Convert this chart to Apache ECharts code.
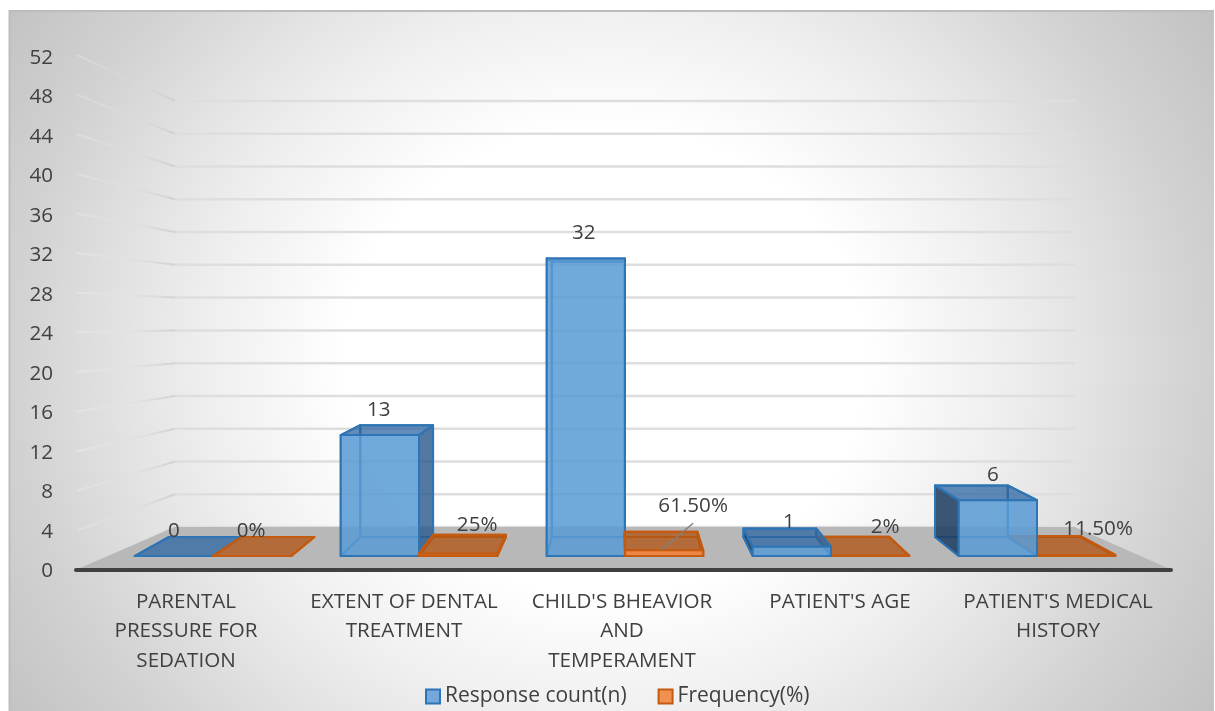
<!DOCTYPE html>
<html>
<head>
<meta charset="utf-8">
<style>html,body{margin:0;padding:0;background:#fff}#chart{width:1215px;height:711px}</style>
<script src="https://cdn.jsdelivr.net/npm/echarts@6/dist/echarts.min.js"></script>
</head>
<body>
<div id="chart"></div>
<script>
// Survey results: factors weighed when deciding on sedation.
const categories = [
  'PARENTAL\nPRESSURE FOR\nSEDATION',
  'EXTENT OF DENTAL\nTREATMENT',
  "CHILD'S BHEAVIOR\nAND\nTEMPERAMENT",
  "PATIENT'S AGE",
  "PATIENT'S MEDICAL\nHISTORY"
];
const responseCount = [0, 13, 32, 1, 6];
const frequency = [0, 0.25, 0.615, 0.02, 0.115];
const frequencyLabels = ['0%', '25%', '61.50%', '2%', '11.50%'];
const valueTicks = [0, 4, 8, 12, 16, 20, 24, 28, 32, 36, 40, 44, 48, 52];

// Label placement relative to the front top edge of each column.
const responseNudge = [[0, 0], [-1, 0], [-2, 0], [-3, 0], [-5, 0]];
const frequencyNudge = [[-1, 0], [19, -4], [29, -19], [15, -4], [22, -1]];
const leaderLineFor = 2;

const FONT = '"Open Sans", sans-serif';
const INK = '#404040';
const TEXT_SIZE = 20.6;

// The pseudo-3D view is parallel planes, each with its own cartesian:
// 0 = axis plane, 1 = column fronts, 2 = column backs, 3 = back wall, 4 = tick labels.
const AXIS = 0, FRONT = 1, BACK = 2, WALL = 3, TICKS = 4;
const planes = [
  { left: 77, right: 48, top: 55, bottom: 141 },
  { left: 110, right: 75, top: 72.4, bottom: 155 },
  { left: 145.7, right: 111.4, top: 89.8, bottom: 174 },
  { left: 175, right: 140, top: 101, bottom: 184 },
  { left: 77, right: 48, top: 58, bottom: 139.5 }
];

const chart = echarts.init(document.getElementById('chart'), null, { renderer: 'canvas' });

function at(plane, cat, offset, value) {
  const a = chart.convertToPixel({ gridIndex: plane }, [cat, value]);
  const b = chart.convertToPixel({ gridIndex: plane }, [cat + 1, value]);
  return [a[0] + offset * (b[0] - a[0]), a[1]];
}
const poly = (points, fill, stroke, lineWidth, z2) => ({
  type: 'polygon', shape: { points }, z2,
  style: { fill, stroke, lineWidth, lineJoin: 'round' }
});

function renderFloor(params, api) {
  const fl = at(AXIS, 0, -0.5, 0), fr = at(AXIS, 4, 0.5, 0);
  const bl = at(WALL, 0, -0.5, 0), br = at(WALL, 4, 0.5, 0);
  return {
    type: 'group',
    children: [
      poly([[fl[0] - 2, fl[1]], [fr[0] + 5, fr[1]], br, bl], '#b8b8b8', null, 0, 2),
      {
        type: 'line', z2: 60,
        shape: { x1: fl[0] - 1, y1: fl[1], x2: fr[0] + 4, y2: fr[1] },
        style: { stroke: '#404040', lineWidth: 4, lineCap: 'round' }
      }
    ]
  };
}

function renderGridLine(params, api) {
  const v = api.value(0);
  const s = at(AXIS, 0, -0.5, v), c = at(WALL, 0, -0.5, v), e = at(WALL, 4, 0.5, v);
  return {
    type: 'group',
    children: [
      {
        type: 'line', z2: 1,
        shape: { x1: s[0], y1: s[1], x2: c[0], y2: c[1] },
        style: {
          lineWidth: 2,
          stroke: new echarts.graphic.LinearGradient(s[0], s[1], c[0], c[1], [
            { offset: 0, color: 'rgba(255,255,255,0.22)' },
            { offset: 0.45, color: 'rgba(225,225,225,0.2)' },
            { offset: 1, color: 'rgba(205,205,205,0.85)' }
          ], true)
        }
      },
      {
        type: 'line', z2: 1,
        shape: { x1: c[0], y1: c[1], x2: e[0], y2: e[1] },
        style: { stroke: '#dedede', lineWidth: 2.5 }
      }
    ]
  };
}

// Draws one column as a translucent box; l and r place it inside its category band.
function boxRenderer(cfg) {
  return function (params, api) {
    const cat = api.value(0), v = api.value(1);
    const fl0 = at(FRONT, cat, cfg.l, 0), fr0 = at(FRONT, cat, cfg.r, 0);
    const fl1 = at(FRONT, cat, cfg.l, v), fr1 = at(FRONT, cat, cfg.r, v);
    const bl0 = at(BACK, cat, cfg.l, 0), br0 = at(BACK, cat, cfg.r, 0);
    const bl1 = at(BACK, cat, cfg.l, v), br1 = at(BACK, cat, cfg.r, v);
    const base = cfg.rank(cat);
    const nudge = cfg.nudge[cat];
    const lx = (fl0[0] + fr0[0]) / 2 + nudge[0], ly = fl1[1] - 25 + nudge[1];
    const W = 2;
    // A side face only reads as solid when it sticks out beyond the front face.
    const leftFill = bl0[0] < fl0[0] ? cfg.sideL : cfg.back;
    const rightFill = br0[0] > fr0[0] ? cfg.sideR : cfg.back;
    const children = [
      poly([bl0, br0, br1, bl1], cfg.back, cfg.edge, W, base),
      poly([fl0, fr0, br0, bl0], cfg.back, cfg.edge, W, base + 1),
      poly([fl0, bl0, bl1, fl1], leftFill, cfg.edge, W, base + 2),
      poly([fr0, br0, br1, fr1], rightFill, cfg.edge, W, base + 2),
      poly([fl1, fr1, br1, bl1], cfg.top, cfg.edge, W, base + 3),
      poly([fl0, fr0, fr1, fl1], cfg.front, cfg.edge, W, base + 4),
      {
        type: 'text', z2: 90,
        style: {
          x: lx, y: ly, text: cfg.text(cat), fill: INK, font: TEXT_SIZE + 'px ' + FONT,
          align: 'center', verticalAlign: 'middle'
        }
      }
    ];
    if (cfg.leader === cat) {
      children.push({
        type: 'line', z2: 80,
        shape: { x1: lx, y1: ly + 17, x2: (fl0[0] + fr0[0]) / 2 - 2, y2: fl1[1] - 1 },
        style: { stroke: '#808080', lineWidth: 1.5 }
      });
    }
    return { type: 'group', children };
  };
}

const blueStyle = {
  front: 'rgba(91,155,213,0.85)', back: 'rgba(91,155,213,0.12)',
  sideL: 'rgba(30,60,95,0.85)', sideR: 'rgba(44,90,140,0.8)',
  top: 'rgba(44,100,160,0.72)', edge: '#2e75b6'
};
const orangeStyle = {
  front: 'rgba(240,130,60,0.9)', back: 'rgba(237,125,49,0.12)',
  sideL: 'rgba(175,85,20,0.75)', sideR: 'rgba(175,85,20,0.75)',
  top: 'rgba(175,85,20,0.75)', edge: '#c55a11'
};

const axisBase = { min: 0, max: 52, interval: 4 };
const hiddenX = i => ({ type: 'category', gridIndex: i, data: categories, show: false });
const hiddenY = i => Object.assign({ type: 'value', gridIndex: i, show: false }, axisBase);

chart.setOption({
  animation: false,
  graphic: [
    {
      // Panel backdrop: an elliptical glow, squeezed vertically about the panel centre.
      type: 'rect', z: -10, silent: true, x: 9, y: 361, scaleY: 1 / 1.11,
      shape: { x: 0, y: -388, width: 1205, height: 782 },
      style: {
        fill: new echarts.graphic.RadialGradient(596, 0, 720, [
          { offset: 0, color: '#ffffff' },
          { offset: 0.36, color: '#ffffff' },
          { offset: 0.5, color: '#f3f3f3' },
          { offset: 0.54, color: '#f0f0f0' },
          { offset: 0.66, color: '#e4e4e4' },
          { offset: 0.82, color: '#d2d2d2' },
          { offset: 1, color: '#c2c2c2' }
        ], true)
      }
    },
    {
      type: 'polyline', z: -9, silent: true,
      shape: { points: [[9.5, 711], [9.5, 11], [1214, 11]] },
      style: { stroke: '#bdbdbd', lineWidth: 2, fill: null }
    }
  ],
  legend: {
    left: 420, top: 681, itemWidth: 14, itemHeight: 14, itemGap: 31, icon: 'rect',
    textStyle: { color: INK, fontFamily: FONT, fontSize: 21 },
    data: [
      { name: 'Response count(n)', itemStyle: { color: '#74a8dc', borderColor: '#2e75b6', borderWidth: 2 } },
      { name: 'Frequency(%)', itemStyle: { color: '#f0914f', borderColor: '#c55a11', borderWidth: 2 } }
    ]
  },
  grid: planes,
  xAxis: [
    {
      type: 'category', gridIndex: AXIS, data: categories,
      axisLine: { show: false }, axisTick: { show: false },
      axisLabel: {
        color: INK, fontFamily: FONT, fontSize: TEXT_SIZE, lineHeight: 29.5,
        margin: 17, interval: 0
      }
    },
    hiddenX(FRONT), hiddenX(BACK), hiddenX(WALL), hiddenX(TICKS)
  ],
  yAxis: [
    hiddenY(AXIS), hiddenY(FRONT), hiddenY(BACK), hiddenY(WALL),
    Object.assign({
      type: 'value', gridIndex: TICKS,
      axisLine: { show: false }, axisTick: { show: false }, splitLine: { show: false },
      axisLabel: { color: INK, fontFamily: FONT, fontSize: TEXT_SIZE, margin: 24 }
    }, axisBase)
  ],
  series: [
    {
      type: 'custom', silent: true, xAxisIndex: WALL, yAxisIndex: WALL, clip: false,
      data: [[0, 0]], renderItem: renderFloor
    },
    {
      type: 'custom', silent: true, xAxisIndex: WALL, yAxisIndex: WALL, clip: false,
      encode: { y: 0 }, data: valueTicks.map(v => [v]), renderItem: renderGridLine
    },
    {
      type: 'custom', name: 'Response count(n)', silent: true,
      xAxisIndex: FRONT, yAxisIndex: FRONT, clip: false,
      data: responseCount.map((v, i) => [i, v]),
      renderItem: boxRenderer(Object.assign({
        l: -0.38, r: 0, nudge: responseNudge,
        rank: c => (c <= 2 ? 10 : 30),
        text: c => String(responseCount[c])
      }, blueStyle))
    },
    {
      type: 'custom', name: 'Frequency(%)', silent: true,
      xAxisIndex: FRONT, yAxisIndex: FRONT, clip: false,
      data: frequency.map((v, i) => [i, v]),
      renderItem: boxRenderer(Object.assign({
        l: 0, r: 0.38, nudge: frequencyNudge, leader: leaderLineFor,
        rank: () => 20,
        text: c => frequencyLabels[c]
      }, orangeStyle))
    }
  ]
});
</script>
</body>
</html>
